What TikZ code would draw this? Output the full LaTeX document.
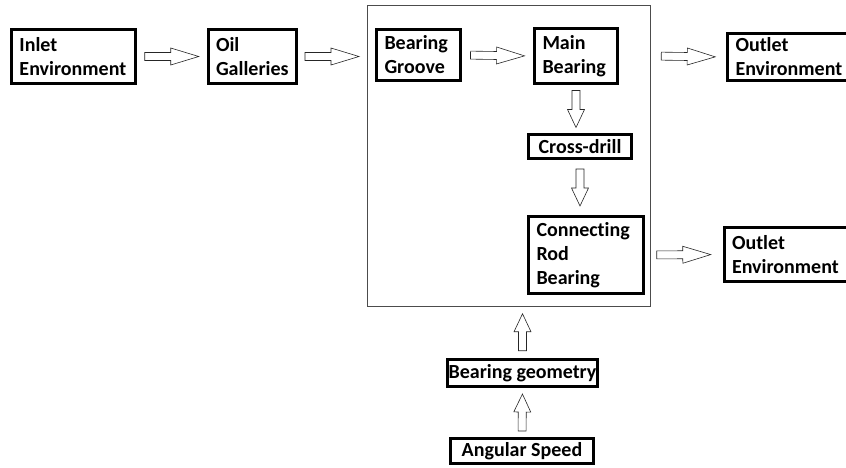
\documentclass[tikz,border=0pt]{standalone}
\usepackage{fontspec}
\setmainfont{Carlito}[Ligatures=CommonOff]
\usepackage{tikz}
\usetikzlibrary{calc}
% hollow block arrow centred in the gap: from, to, half length, head length
\newcommand{\fatarrow}[4]{%
  \coordinate (fa-m) at ($(#1)!0.5!(#2)$);
  \coordinate (fa-s) at ($(fa-m)!#3!(#1)$);
  \coordinate (fa-t) at ($(fa-m)!#3!(#2)$);
  \coordinate (fa-h) at ($(fa-t)!#4!(fa-s)$);
  \draw[farrow] ($(fa-s)!4pt!90:(fa-t)$) -- ($(fa-h)!4pt!90:(fa-t)$)
    -- ($(fa-h)!8.5pt!90:(fa-t)$) -- (fa-t) -- ($(fa-h)!8.5pt!-90:(fa-t)$)
    -- ($(fa-h)!4pt!-90:(fa-t)$) -- ($(fa-s)!4pt!-90:(fa-t)$) -- cycle;
}

\begin{document}
\begin{tikzpicture}[x=1pt,y=-1pt,
  blk/.style={draw, line width=3pt, font=\fontsize{20}{24}\selectfont\bfseries,
    align=left, inner xsep=8pt, inner ysep=0pt},
  oneline/.style={blk, align=center, inner xsep=1pt},
  frm/.style={draw=black!70, line width=1pt, inner sep=0pt},
  farrow/.style={draw=black!85, line width=0.6pt, fill=white}]
\useasboundingbox (0,0) rectangle (846,467);

\node[frm, minimum width=283pt, minimum height=301pt] (frame) at (508.5,155.5) {};

\node[blk, text width=108pt, minimum height=54pt] (inlet) at (73.5,56.5) {Inlet\\Environment};
\node[blk, text width=72pt, minimum height=54pt] (oil) at (252,56.5) {Oil\\Galleries};
\node[blk, text width=68pt, minimum height=51pt] (groove) at (418.5,55) {Bearing\\Groove};
\node[blk, text width=67pt, minimum height=55pt] (main) at (576,56) {Main\\Bearing};
\node[oneline, minimum width=103pt, minimum height=24pt] (cross) at (580,146.5) {Cross-drill};
\node[blk, text width=99pt, minimum height=77pt] (rod) at (586,255) {Connecting\\Rod\\Bearing};
\node[blk, text width=107pt, minimum height=47pt] (out1) at (789,57) {Outlet\\Environment};
\node[blk, text width=108pt, minimum height=54pt] (out2) at (786,254.5) {Outlet\\Environment};
\node[oneline, minimum width=148pt, minimum height=27pt] (geom) at (522.5,373) {Bearing geometry};
\node[oneline, minimum width=143pt, minimum height=25pt] (speed) at (522,451) {Angular Speed};

% flow arrows
\fatarrow{inlet.east}{oil.west}{27pt}{28pt}
\fatarrow{oil.east}{frame.west |- oil.east}{27pt}{28pt}
\fatarrow{groove.east}{main.west}{27pt}{28pt}
\fatarrow{frame.east |- main.east}{out1.west}{27pt}{28pt}
\fatarrow{main.south}{main.south |- cross.north}{18.5pt}{18pt}
\fatarrow{cross.south}{cross.south |- rod.north}{18.5pt}{18pt}
\fatarrow{rod.east}{out2.west}{27pt}{28pt}
\fatarrow{geom.north}{frame.south -| geom.north}{18.5pt}{18pt}
\fatarrow{speed.north}{geom.south}{18.5pt}{18pt}
\end{tikzpicture}
\end{document}
